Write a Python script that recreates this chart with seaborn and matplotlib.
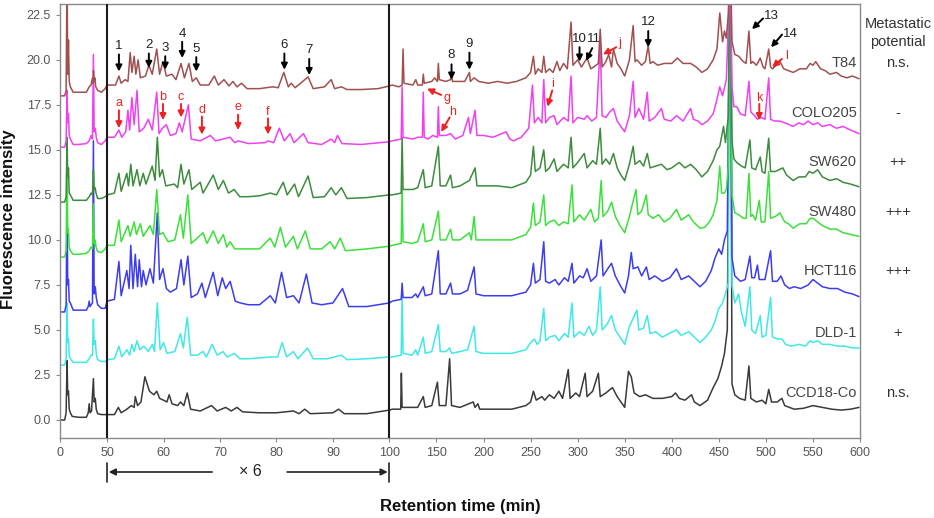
import numpy as np
import pandas as pd
import matplotlib
matplotlib.use("Agg")
import matplotlib.pyplot as plt
import seaborn as sns
from matplotlib.transforms import blended_transform_factory as blend

sns.set_theme(style="ticks")
plt.rcParams["font.family"] = ["Liberation Sans", "DejaVu Sans"]

# ---------------- data ----------------
cell_lines = ["T84", "COLO205", "SW620", "SW480", "HCT116", "DLD-1", "CCD18-Co"]
offsets = [18, 15, 12, 9, 6, 3, 0]
metastatic = ["n.s.", "-", "++", "+++", "+++", "+", "n.s."]
label_y = [19.8, 17.05, 14.3, 11.55, 8.3, 4.85, 1.5]
line_colors = ["#A0504F", "#F040F0", "#3C8C3C", "#3CE03C", "#3C3CF0", "#40E8E8", "#3A3A3A"]

x_ticks = [0, 50, 60, 70, 80, 90, 100, 150, 200, 250, 300, 350, 400, 450, 500, 550, 600]
y_ticks = [0.0, 2.5, 5.0, 7.5, 10.0, 12.5, 15.0, 17.5, 20.0, 22.5]

# relative intensity (above each trace's offset), (retention time, intensity)
t84 = [(0,0.0),(5,0.0),(6.5,0.3),(7.5,7.0),(8.2,1.2),(9.0,3.1),(9.8,0.8),(11,0.5),(14,0.2),(20,0.2),(28,0.2),(31,0.5),(33,0.6),(34.5,1.0),(35.2,0.7),(35.6,1.4),(36.2,0.8),(37,1.0),(38,0.5),(40,0.3),(44,0.2),(48,0.4),(50,0.6),
       (51.5,0.6),(52.1,1.1),(52.5,0.7),(53.2,0.9),(53.7,0.8),(54.1,2.4),(54.4,1.3),(54.8,2.2),(55.1,1.2),(55.5,2.0),(55.9,1.0),(56.8,1.1),(57.4,1.7),(58.0,1.2),(58.8,2.6),(59.3,1.2),(59.9,1.9),(60.5,1.1),(61.5,1.2),(62.2,0.9),(63.1,1.8),(63.7,1.0),(64.5,1.8),(65.1,0.8),(65.8,1.0),(66.5,0.6),(68.0,0.6),(69.0,1.1),(69.7,0.6),(70.7,0.9),(71.6,0.55),(72.3,0.8),(73.0,0.5),(73.8,0.7),(74.8,0.4),(77,0.4),(79.3,0.5),(80.3,0.45),(81.3,1.3),(82.1,0.5),(82.6,0.7),(83.3,0.45),(85.6,1.05),(86.5,0.4),(88.5,0.5),(89.7,0.9),(90.3,0.4),(91.5,0.5),(92.5,0.35),(95,0.35),(98,0.4),(100,0.55),
       (103,0.6),(110,0.5),(113.5,0.6),(114.5,2.6),(115.5,0.7),(125,0.6),(128,0.9),(130,0.6),(135,0.6),(136,1.2),(137,0.7),(145,0.8),(148,1.0),(151,0.8),(152,1.8),(153,0.9),(160,0.8),(165,0.9),(166,1.2),(167,0.8),(175,0.8),(180,0.8),(185,1.3),(186,0.8),(190,1.0),(195,0.8),(205,0.7),(215,0.8),(225,0.7),(235,0.8),(245,1.0),(250,1.3),(253,2.2),(255,1.2),(258,1.5),(262,1.3),(264,2.2),(266,1.3),(270,1.5),(274,1.3),(278,1.9),(281,1.4),(285,1.8),(289,1.5),(293,4.1),(295,1.7),(300,2.0),(304,1.6),(310,2.1),(314,1.5),(317,1.6),(322,1.8),(324,3.7),(326,1.6),(330,1.9),(333,2.3),(336,1.6),(338,2.6),(342,1.8),(346,1.5),(350,1.1),(355,2.0),(359,3.9),(361,1.9),(363,2.0),(368,1.7),(372,1.9),(375,2.8),(377,1.8),(380,1.9),(385,1.7),(392,1.8),(400,1.8),(406,2.1),(412,1.8),(420,1.8),(426,1.6),(432,1.3),(438,1.5),(444,2.0),(448,2.6),(451,4.6),(454,3.0),(456,3.6),(458,3.2),(460,4.5),(461.5,7.0),(462.5,7.0),(464,3.0),(467,2.3),(471,2.2),(476,1.9),(479,1.8),(482,3.6),(484,1.8),(486,1.9),(490,1.7),(494,2.1),(497,1.6),(499,1.5),(503,2.6),(505,1.6),(507,1.5),(511,1.7),(515,1.9),(519,1.5),(524,1.4),(529,1.3),(536,1.5),(543,1.5),(547,1.8),(550,1.7),(553,1.9),(558,1.5),(563,1.4),(568,1.2),(575,1.3),(580,1.1),(586,1.0),(592,1.1),(599,0.95)]

colo205 = [(0,0.15),(5,0.15),(6.5,0.5),(7.5,3.3),(8.2,1.5),(9.0,2.0),(9.8,0.8),(11,0.6),(14,0.3),(20,0.3),(28,0.35),(31,0.5),(33,0.8),(34.5,0.6),(35.5,5.3),(36.3,1.0),(37.5,1.2),(38.5,0.7),(40,0.4),(44,0.3),(48,0.5),(50,0.7),
           (51.3,0.7),(52.1,1.1),(52.6,0.7),(53.3,1.0),(53.7,2.2),(54.0,1.1),(54.4,2.9),(54.8,1.4),(55.3,3.3),(55.7,1.0),(56.5,1.2),(57.3,1.7),(58.0,1.1),(58.8,3.2),(59.2,0.9),(59.8,1.2),(60.5,1.4),(61.2,0.8),(62.2,0.9),(62.8,1.5),(63.3,1.0),(64.4,2.5),(64.9,0.6),(66.5,0.5),(68.3,0.8),(69.2,0.5),(70.5,0.6),(71.8,0.7),(72.6,0.4),(73.2,0.5),(75,0.35),(78,0.4),(78.5,0.5),(79.5,0.4),(80.5,1.2),(81.4,0.5),(82.4,0.9),(83.1,0.4),(84.8,0.9),(85.6,0.4),(88,0.3),(89.7,0.6),(90.3,0.4),(90.8,0.8),(91.6,0.35),(95,0.3),(100,0.45),
           (103,0.5),(112.5,0.6),(113.5,3.5),(114.5,0.7),(125,0.6),(130,0.7),(135,0.7),(136,3.2),(137,0.7),(141,0.6),(146,0.8),(151,0.7),(152,2.4),(153,0.8),(160,0.8),(165,0.9),(170,0.6),(178,0.8),(184,1.8),(186,0.9),(191,2.2),(193,0.8),(200,0.8),(210,0.7),(224,1.0),(228,0.6),(232,0.5),(240,0.7),(248,1.2),(252,3.6),(254,1.5),(258,1.8),(262,1.5),(264,3.9),(266,1.5),(270,1.8),(275,1.9),(278,1.4),(285,1.8),(290,1.6),(293,4.1),(295,1.5),(300,1.8),(307,1.7),(310,1.9),(315,1.6),(320,1.8),(324,5.9),(326,1.9),(330,1.8),(334,2.1),(338,2.3),(342,1.6),(346,1.3),(350,1.0),(355,1.9),(359,3.8),(361,1.8),(365,2.3),(370,1.7),(374,3.2),(376,1.6),(382,1.8),(389,2.3),(392,1.7),(399,1.6),(405,1.9),(412,1.6),(420,2.3),(423,1.7),(428,1.6),(432,1.4),(438,1.6),(444,2.0),(448,2.8),(451,3.5),(454,3.0),(458,3.9),(461.5,9.0),(462.5,9.0),(464,3.5),(466,2.4),(469,2.4),(473,2.0),(478,1.9),(482,3.8),(484,2.1),(488,1.9),(491,1.7),(495,1.8),(499,1.7),(503,4.0),(505,1.7),(509,1.6),(515,1.6),(520,1.5),(525,1.4),(529,1.3),(535,1.5),(540,1.4),(545,1.6),(550,1.4),(555,1.5),(560,1.3),(568,1.4),(575,1.2),(582,1.3),(590,1.1),(599,0.9)]

sw620 = [(0,0.1),(5,0.1),(6.5,0.4),(7.5,3.7),(8.2,1.5),(9.0,2.0),(9.8,0.6),(11,0.5),(14,0.2),(20,0.2),(28,0.2),(31,0.4),(33,0.6),(34.5,0.5),(35.5,1.9),(36.3,0.8),(37.3,0.9),(38.3,0.6),(40,0.3),(44,0.3),(48,0.4),(50,0.5),
         (51.3,0.6),(52.1,1.7),(52.5,0.7),(53.5,1.7),(53.8,1.0),(54.2,2.2),(54.6,1.0),(55.3,1.9),(55.8,1.0),(56.4,1.7),(56.9,1.1),(58.0,2.1),(58.5,1.3),(58.9,3.7),(59.3,1.5),(59.8,1.9),(60.4,1.0),(61.9,1.1),(62.5,0.9),(63.1,2.2),(63.6,1.1),(64.5,1.9),(65.0,0.8),(66.5,1.2),(67.0,0.6),(68.8,1.6),(69.7,0.8),(70.6,1.3),(71.5,0.6),(72.5,0.8),(73.5,0.4),(75,0.4),(77,0.45),(78.9,0.6),(80,0.5),(81.2,1.2),(81.9,0.5),(83.2,1.1),(83.9,0.4),(85.6,1.55),(86.5,0.35),(88.5,0.4),(89.7,0.9),(90.5,0.5),(91.5,0.9),(92.5,0.3),(96,0.35),(100,0.5),
         (103,0.5),(112.5,0.6),(113.5,3.7),(114.5,0.8),(125,0.8),(130,0.9),(136,1.9),(138,0.9),(145,1.0),(152,3.2),(154,1.0),(160,1.0),(165,1.6),(167,0.9),(175,1.0),(185,1.3),(191,2.0),(193,1.0),(200,1.0),(215,1.0),(230,0.9),(245,1.2),(250,1.6),(253,3.2),(255,1.8),(260,2.0),(264,3.0),(266,1.8),(270,2.0),(275,2.5),(278,1.8),(285,2.2),(290,2.0),(293,3.7),(295,2.0),(300,2.3),(307,2.8),(310,2.0),(316,2.4),(320,2.2),(324,4.2),(326,2.2),(330,2.5),(334,2.2),(338,2.8),(342,2.0),(346,1.6),(350,1.3),(355,2.2),(359,3.2),(361,2.2),(366,2.4),(370,2.1),(374,2.8),(377,2.0),(383,2.1),(389,2.2),(395,1.9),(400,2.0),(408,2.3),(414,2.0),(420,2.2),(426,1.9),(432,1.5),(438,1.8),(444,2.4),(448,3.0),(451,3.2),(455,4.3),(457,3.4),(460,4.8),(461.5,12.0),(462.5,12.0),(464,3.5),(466,2.5),(469,2.3),(474,2.1),(478,2.0),(483,3.55),(485,2.0),(489,1.9),(494,2.6),(496,1.8),(499,1.7),(503,3.65),(505,1.8),(510,1.8),(518,2.0),(522,1.6),(529,1.3),(535,1.5),(542,1.5),(546,1.8),(550,1.7),(555,1.9),(560,1.5),(568,1.3),(575,1.4),(582,1.2),(590,1.1),(599,0.95)]

sw480 = [(0,0.05),(5,0.05),(6.5,0.4),(7.5,5.5),(8.2,1.4),(9.0,1.6),(9.8,0.6),(11,0.4),(14,0.2),(20,0.2),(28,0.25),(31,0.4),(33,0.6),(34.5,0.5),(35.5,3.0),(36.3,0.8),(37.3,1.0),(38.3,0.6),(40,0.35),(44,0.3),(48,0.5),(50,0.7),
         (51.3,0.7),(52.1,2.1),(52.5,0.9),(53.7,1.8),(54.1,1.2),(54.8,2.0),(55.2,1.3),(55.9,1.9),(56.4,1.2),(57.6,1.8),(58.2,1.3),(58.8,3.8),(59.3,1.3),(59.9,1.4),(60.8,0.9),(62.0,1.0),(63.0,2.4),(63.5,1.1),(64.3,3.5),(64.9,0.8),(67.0,1.4),(67.7,0.8),(68.8,1.5),(69.7,0.8),(70.6,1.3),(71.2,0.6),(71.8,0.9),(72.6,0.5),(74,0.5),(77,0.5),(78.9,1.1),(79.7,0.6),(80.7,1.7),(81.6,0.6),(83.0,1.2),(83.7,0.5),(85.1,1.5),(86.0,0.5),(88,0.5),(89.5,0.9),(90.3,0.5),(91.3,1.1),(92.2,0.4),(96,0.5),(100,0.65),
         (103,0.7),(112.5,0.8),(113.5,4.0),(114.5,0.9),(124,0.8),(130,0.9),(136,1.9),(138,0.9),(145,1.0),(152,2.6),(154,1.0),(160,1.0),(165,1.6),(167,1.0),(175,1.0),(185,1.4),(187,1.0),(190,2.3),(192,1.0),(200,1.0),(215,1.0),(230,1.0),(245,1.3),(250,1.7),(253,3.05),(255,1.8),(260,2.0),(264,3.5),(266,1.8),(270,2.0),(275,2.1),(280,1.8),(285,2.0),(290,1.9),(294,4.05),(296,2.0),(302,2.4),(307,2.1),(314,2.7),(318,2.0),(322,2.2),(325,4.3),(327,2.3),(332,2.6),(336,3.1),(340,2.3),(345,1.8),(350,1.4),(355,2.3),(362,3.8),(364,2.4),(368,2.6),(373,3.5),(375,2.4),(380,2.2),(386,2.4),(392,2.0),(398,2.2),(405,2.7),(410,2.1),(418,2.4),(423,2.0),(430,1.65),(435,1.7),(440,2.0),(444,2.4),(448,3.2),(451,5.1),(453,3.6),(456,3.6),(458,3.8),(460,5.1),(461.5,15.0),(462.5,15.0),(464,3.5),(467,2.5),(471,2.4),(476,2.2),(479,2.2),(482,4.7),(484,2.3),(486,2.4),(489,2.1),(493,3.2),(495,2.0),(499,2.0),(503,4.8),(505,2.2),(510,2.3),(515,2.5),(520,2.0),(524,1.9),(529,1.65),(536,1.9),(543,1.9),(547,2.2),(550,2.2),(555,2.0),(560,1.8),(568,1.6),(575,1.6),(582,1.4),(590,1.3),(599,1.2)]

hct116 = [(0,0.0),(5,0.0),(6.5,0.4),(7.5,6.5),(8.2,1.5),(9.0,1.8),(9.8,0.6),(11,0.5),(14,0.1),(20,0.1),(28,0.1),(30,0.3),(31,0.6),(32,0.3),(33,0.4),(34.5,0.5),(35.5,9.5),(36.3,1.0),(37.5,1.4),(38.5,0.8),(40,0.4),(44,0.2),(48,0.2),(50,0.6),
          (51.3,0.7),(52.1,2.8),(52.5,0.9),(53.5,2.3),(53.9,1.3),(54.2,3.7),(54.6,1.3),(55.0,3.2),(55.4,1.4),(55.7,2.9),(56.1,1.4),(56.4,2.3),(56.9,1.5),(57.6,2.4),(58.2,1.6),(58.9,5.5),(59.3,1.8),(59.9,2.4),(60.5,1.3),(61.2,1.1),(62.3,1.3),(63.1,2.9),(63.6,1.5),(64.3,3.1),(64.9,0.8),(66.0,1.0),(66.8,1.6),(67.4,0.8),(68.8,2.2),(69.6,0.9),(70.4,1.9),(71.0,1.3),(71.8,1.7),(72.7,0.6),(73.6,0.5),(75,0.4),(77,0.4),(78.9,0.9),(79.8,0.5),(80.9,2.2),(81.8,0.8),(83.0,0.9),(84.0,0.5),(85.3,2.1),(86.3,0.5),(88,0.4),(90,0.5),(91.7,1.3),(92.8,0.3),(96,0.3),(100,0.5),
          (103,0.6),(112.5,0.7),(113.5,1.6),(114.5,0.8),(124,0.8),(128,1.0),(130,0.8),(136,1.4),(138,0.9),(145,1.0),(152,3.4),(154,1.0),(160,1.0),(165,1.6),(167,1.0),(175,1.0),(183,1.2),(190,2.5),(192,1.0),(200,0.9),(215,0.9),(230,0.9),(245,1.1),(250,1.5),(253,2.7),(255,1.6),(260,1.8),(264,3.9),(266,1.7),(270,1.6),(276,1.8),(280,1.5),(286,1.9),(290,1.7),(294,2.7),(296,1.6),(302,2.0),(306,1.9),(310,2.4),(314,1.7),(320,2.0),(325,4.0),(327,2.0),(332,2.4),(336,2.7),(340,2.0),(345,1.5),(350,1.05),(354,2.0),(357,3.3),(359,2.4),(364,2.5),(368,2.0),(373,2.5),(376,1.8),(382,2.0),(390,1.7),(398,1.9),(405,2.4),(410,1.8),(418,2.0),(424,1.7),(430,1.4),(436,1.7),(442,2.3),(446,3.0),(450,3.5),(453,3.2),(456,4.0),(459,4.5),(461.5,18.0),(462.5,18.0),(464,3.0),(467,2.0),(473,1.7),(478,1.8),(483,3.1),(485,1.9),(488,1.9),(491,2.6),(493,1.8),(499,1.8),(505,3.4),(507,1.7),(512,1.7),(516,2.0),(520,1.5),(525,1.3),(530,1.4),(537,1.3),(545,1.5),(550,1.8),(555,1.6),(560,1.4),(568,1.3),(576,1.3),(584,1.1),(592,1.0),(599,0.85)]

dld1 = [(0,0.05),(5,0.05),(6.5,0.4),(7.5,3.5),(8.2,1.3),(9.0,1.5),(9.8,0.6),(11,0.4),(14,0.2),(20,0.2),(28,0.2),(31,0.4),(33,0.6),(34.5,0.6),(35.5,2.6),(36.3,1.2),(37.5,1.4),(38.5,0.7),(40,0.35),(44,0.25),(48,0.25),(50,0.35),
        (51.3,0.4),(52.1,1.1),(52.6,0.5),(53.5,0.9),(54.0,0.6),(54.4,1.2),(54.8,0.8),(55.3,1.4),(55.8,0.9),(56.5,1.1),(57.3,0.8),(58.0,1.2),(58.4,0.8),(58.9,3.5),(59.4,0.9),(60.0,1.3),(60.6,0.7),(62.0,0.8),(63.0,1.8),(63.5,1.0),(64.2,2.7),(64.8,0.6),(66.0,0.6),(67.0,0.8),(67.6,0.5),(68.6,1.2),(69.5,0.6),(70.5,0.8),(71.3,0.5),(72.5,0.7),(73.5,0.4),(75,0.4),(77,0.45),(79,0.5),(80.2,0.5),(81.0,1.3),(81.8,0.5),(83.0,0.8),(83.8,0.4),(85.5,1.0),(86.5,0.4),(89,0.4),(91.5,0.6),(92.5,0.35),(96,0.4),(100,0.5),
        (103,0.5),(112.5,0.6),(113.5,4.0),(114.5,0.7),(124,0.6),(128,0.9),(130,0.6),(136,1.6),(138,0.7),(145,0.8),(152,2.3),(154,0.8),(160,0.8),(164,1.0),(166,0.7),(175,0.8),(183,0.9),(190,2.2),(192,0.8),(200,0.7),(215,0.7),(230,0.7),(245,0.9),(250,1.3),(254,1.5),(257,1.2),(260,1.4),(264,3.2),(266,1.4),(270,1.6),(276,1.7),(280,1.4),(286,1.8),(290,1.6),(294,3.5),(296,1.6),(302,1.9),(307,1.7),(312,2.2),(316,1.7),(320,2.0),(324,4.4),(326,2.0),(331,2.3),(336,2.8),(340,2.0),(345,1.6),(350,1.2),(355,2.2),(363,3.1),(365,2.0),(370,2.1),(374,2.8),(377,1.8),(383,1.9),(390,1.6),(397,1.8),(405,2.0),(410,1.7),(418,1.9),(424,1.6),(430,1.3),(436,1.6),(442,2.0),(446,2.5),(450,3.2),(454,3.5),(457,4.0),(460,4.6),(461.5,21.0),(462.5,21.0),(464,4.5),(467,3.5),(471,4.0),(474,3.0),(478,2.2),(483,4.4),(485,2.0),(489,1.8),(494,2.8),(496,1.6),(500,1.7),(505,3.8),(507,1.6),(512,1.5),(517,1.5),(521,1.2),(527,1.1),(535,1.2),(542,1.1),(547,1.4),(550,1.3),(555,1.4),(560,1.2),(568,1.2),(576,1.1),(584,1.1),(592,1.0),(599,1.0)]

ccd18 = [(0,0.0),(5,0.0),(6.5,0.4),(7.5,3.3),(8.2,1.4),(9.0,1.6),(9.8,0.6),(11,0.4),(13,0.2),(20,0.15),(28,0.15),(30,0.4),(31,0.9),(32,0.4),(33.5,0.5),(35.5,2.3),(36.3,1.0),(37.5,1.2),(38.5,0.6),(40,0.35),(44,0.3),(48,0.3),(50,0.3),
         (51.3,0.3),(52.0,0.7),(52.5,0.4),(53.5,0.6),(54.3,0.8),(54.8,0.7),(55.0,1.3),(55.4,0.8),(56.0,1.0),(56.7,2.4),(57.5,1.6),(58.3,1.4),(58.8,1.6),(59.3,1.2),(60.0,1.1),(60.6,1.0),(61.0,1.4),(61.5,0.9),(62.5,0.8),(63.0,1.0),(63.6,0.8),(64.2,1.5),(64.8,0.6),(66.5,0.5),(68.5,0.8),(69.5,0.5),(71.0,0.7),(72.0,0.5),(73.0,0.7),(74.0,0.45),(77,0.4),(80,0.4),(83,0.5),(84,0.35),(85,0.6),(86,0.35),(90,0.4),(91,0.6),(92,0.35),(96,0.35),(100,0.55),
         (103,0.6),(112,0.6),(112.7,2.6),(113.5,0.7),(125,0.7),(130,0.7),(136,1.3),(138,0.7),(145,0.8),(151,2.1),(153,0.8),(160,0.8),(164,3.4),(166,0.8),(175,0.7),(189,1.0),(191,0.7),(194,0.9),(196,0.6),(210,0.6),(230,0.6),(245,0.8),(250,1.0),(253,1.6),(256,1.1),(262,1.3),(265,1.1),(270,1.4),(275,1.2),(280,1.6),(284,1.2),(290,2.8),(292,1.2),(298,1.5),(302,1.3),(308,2.6),(310,1.3),(316,1.6),(322,2.6),(324,1.3),(330,1.5),(337,1.8),(342,1.3),(346,1.0),(350,0.7),(354,2.7),(357,2.4),(360,1.5),(366,1.3),(372,1.4),(380,1.2),(390,1.2),(400,1.3),(404,1.5),(408,1.2),(414,1.1),(421,1.4),(424,1.0),(430,0.8),(438,1.1),(444,1.8),(449,2.3),(453,3.0),(456,3.7),(459,5.0),(461.5,24.0),(462.5,24.0),(464,2.0),(467,1.4),(472,1.2),(478,1.1),(482,3.0),(484,1.2),(490,1.0),(496,1.1),(500,0.9),(503,1.7),(506,1.0),(512,1.0),(517,1.2),(520,0.8),(530,0.6),(540,0.65),(550,0.8),(560,0.7),(570,0.6),(580,0.55),(590,0.6),(599,0.7)]

traces = [t84, colo205, sw620, sw480, hct116, dld1, ccd18]

# peak markers (black numbers): label, text centre, arrow tail, arrow head
peak_nums = ["1", "2", "3", "4", "5", "6", "7", "8", "9", "10", "11", "12", "13", "14"]
peak_num_text = [(52.1, 20.75), (57.4, 20.85), (60.3, 20.65), (63.3, 21.45), (65.8, 20.6), (81.4, 20.85), (85.8, 20.55),
                 (166, 20.25), (185, 20.9), (302, 21.15), (317, 21.15), (375, 22.1), (505.5, 22.45), (525.7, 21.45)]
peak_num_tail = [(52.1, 20.3), (57.4, 20.35), (60.3, 20.2), (63.3, 21.0), (65.8, 20.15), (81.4, 20.35), (85.8, 20.05),
                 (166, 19.75), (185, 20.4), (302, 20.7), (315.5, 20.65), (375, 21.6), (497, 22.3), (517.2, 21.4)]
peak_num_head = [(52.1, 19.35), (57.4, 19.55), (60.3, 19.45), (63.3, 20.1), (65.8, 19.35), (81.4, 19.45), (85.8, 19.15),
                 (166, 18.9), (185, 19.45), (302, 19.9), (309, 19.95), (375, 20.7), (485.3, 21.7), (505.5, 20.7)]

peak_lets = ["a", "b", "c", "d", "e", "f", "g", "h", "i", "j", "k", "l"]
peak_let_text = [(52.1, 17.6), (59.9, 17.95), (63.1, 17.95), (66.8, 17.2), (73.2, 17.4), (78.5, 17.1),
                 (161, 17.9), (167, 17.1), (273, 18.65), (345, 20.95), (493, 17.9), (522, 20.2)]
peak_let_tail = [(52.1, 17.2), (59.9, 17.55), (63.1, 17.55), (66.8, 16.85), (73.2, 16.95), (78.5, 16.75),
                 (155, 18.05), (164, 16.8), (273, 18.3), (341, 20.7), (493, 17.55), (517, 20.05)]
peak_let_head = [(52.1, 16.2), (59.9, 16.65), (63.1, 16.8), (66.8, 15.85), (73.2, 16.1), (78.5, 15.85),
                 (140, 18.4), (155, 16.0), (268, 17.4), (327, 20.3), (493, 16.65), (506.6, 19.6)]

# ---------------- long-form table ----------------
rows = []
for name, off, pts in zip(cell_lines, offsets, traces):
    for i, (t, v) in enumerate(pts):
        rows.append({"line": name, "order": i, "time": t, "intensity": v + off})
df = pd.DataFrame(rows)

# ---------------- broken-scale x axis (50-100 min expanded x6) ----------------
def fwd(x):
    x = np.asarray(x, dtype=float)
    return np.where(x < 50, x, np.where(x < 100, 50 + 6 * (x - 50), x + 250))

def inv(u):
    u = np.asarray(u, dtype=float)
    return np.where(u < 50, u, np.where(u < 350, 50 + (u - 50) / 6, u - 250))

fig = plt.figure(figsize=(9.34, 5.18), dpi=100)
ax = fig.add_axes([60 / 934, 1 - 438 / 518, 800 / 934, 434 / 518])

palette = dict(zip(cell_lines, line_colors))
sns.lineplot(data=df, x="time", y="intensity", hue="line", hue_order=cell_lines[::-1],
             palette=palette, sort=False, estimator=None, legend=False, lw=1.1, ax=ax)

ax.set_xscale("function", functions=(fwd, inv))
ax.set_xlim(0, 600)
ax.set_ylim(-1.0, 23.1)
ax.set_xticks(x_ticks)
ax.set_xticklabels([str(t) for t in x_ticks])
ax.set_yticks(y_ticks)
ax.set_yticklabels([f"{t:.1f}" for t in y_ticks])
ax.set_xlabel("")
ax.set_ylabel("")
ax.tick_params(axis="both", labelsize=9, labelcolor="#555555", color="#888888",
               length=3, width=0.8, direction="out", bottom=True, left=True)
for s in ax.spines.values():
    s.set_color("#8a8a8a")
    s.set_linewidth(1.0)

for xv in (50, 100):
    ax.axvline(xv, color="#1a1a1a", lw=1.5, zorder=5)

# trace names & metastatic potential
tr_lab = blend(ax.transAxes, ax.transData)
tr_right = blend(fig.transFigure, ax.transData)
for name, ly, mp in zip(cell_lines, label_y, metastatic):
    ax.text(0.996, ly, name, transform=tr_lab, ha="right", va="center", fontsize=10.5, color="#444444", zorder=6)
    ax.text(898 / 934, ly, mp, transform=tr_right, ha="center", va="center", fontsize=10.5,
            color="#333333", clip_on=False)
fig.text(898 / 934, 1 - 33 / 518, "Metastatic\npotential", ha="center", va="center", fontsize=10.5,
         color="#333333", linespacing=1.3)

# peak annotations
for lab, tpos, tail, head in zip(peak_nums, peak_num_text, peak_num_tail, peak_num_head):
    ax.text(tpos[0], tpos[1], lab, ha="center", va="center", fontsize=9.5, color="#222222", zorder=7)
    ax.annotate("", xy=head, xytext=tail,
                arrowprops=dict(arrowstyle="-|>", color="black", lw=1.4, mutation_scale=9, shrinkA=0, shrinkB=0),
                zorder=7)
for lab, tpos, tail, head in zip(peak_lets, peak_let_text, peak_let_tail, peak_let_head):
    ax.text(tpos[0], tpos[1], lab, ha="center", va="center", fontsize=9, color="#ee2222", zorder=7)
    ax.annotate("", xy=head, xytext=tail,
                arrowprops=dict(arrowstyle="-|>", color="#ee2222", lw=1.4, mutation_scale=9, shrinkA=0, shrinkB=0),
                zorder=7)

# "x6" expansion marker below the axis
tr_low = blend(ax.transData, fig.transFigure)
y_mid = 1 - 472 / 518
for xv in (50, 100):
    ax.plot([xv, xv], [1 - 463 / 518, 1 - 482 / 518], transform=tr_low, color="#222222", lw=1.2, clip_on=False)
ax.annotate("", xy=(50.3, y_mid), xytext=(68.6, y_mid), xycoords=tr_low, textcoords=tr_low,
            arrowprops=dict(arrowstyle="-|>", color="#222222", lw=1.2, mutation_scale=10, shrinkA=0, shrinkB=0),
            annotation_clip=False)
ax.annotate("", xy=(99.7, y_mid), xytext=(81.9, y_mid), xycoords=tr_low, textcoords=tr_low,
            arrowprops=dict(arrowstyle="-|>", color="#222222", lw=1.2, mutation_scale=10, shrinkA=0, shrinkB=0),
            annotation_clip=False)
ax.text(75.3, y_mid, "\u00d7 6", transform=tr_low, ha="center", va="center", fontsize=11.5, color="#222222")

fig.text(9 / 934, 1 - 219 / 518, "Fluorescence intensity", rotation=90, ha="center", va="center",
         fontsize=12, fontweight="bold", color="#111111")
fig.text(460 / 934, 1 - 506 / 518, "Retention time (min)", ha="center", va="center",
         fontsize=12, fontweight="bold", color="#111111")

fig.savefig("out.png", dpi=100)
